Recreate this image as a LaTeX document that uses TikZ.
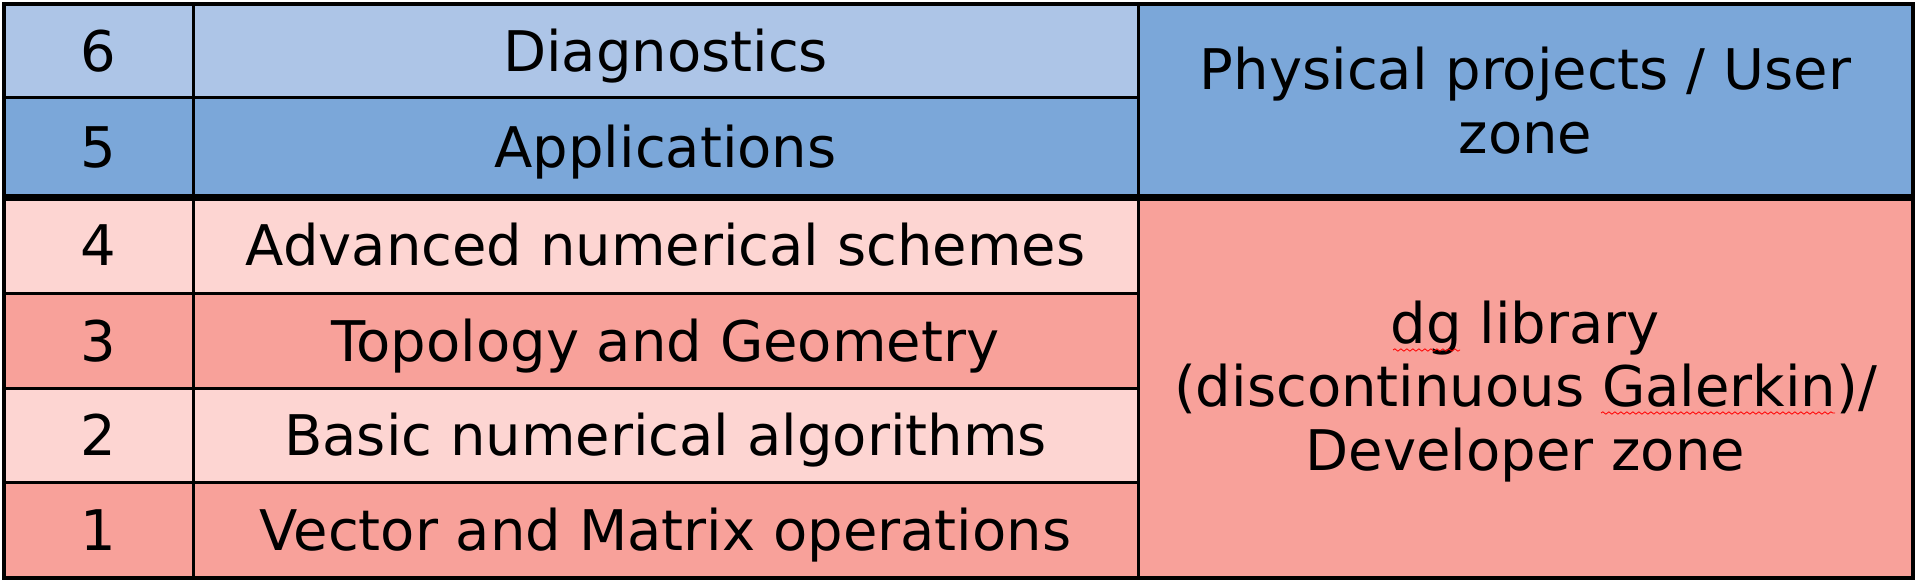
\documentclass[tikz,border=0pt]{standalone}
\usepackage{fontspec}
\setmainfont{DejaVu Sans}
\usetikzlibrary{decorations.pathmorphing}
\definecolor{lblue}{HTML}{ADC5E7}
\definecolor{mblue}{HTML}{7BA7D9}
\definecolor{lpink}{HTML}{FDD5D2}
\definecolor{salmon}{HTML}{F8A19A}
\tikzset{
  cellbase/.style={draw=black, line width=2.25pt, inner sep=0pt, outer sep=0pt,
    anchor=north west, align=center, font=\fontsize{42}{47.25}\selectfont},
  cell/.style={cellbase, text height=39.9pt, text depth=9.2pt},
  numcol/.style={minimum width=189*0.75pt},
  txtcol/.style={minimum width=945*0.75pt},
  rcol/.style={minimum width=775*0.75pt},
  bigtext/.style={align=center, inner sep=0pt, font=\fontsize{42}{47.6}\selectfont},
  squig/.style={draw=red, line width=0.6pt, decorate,
    decoration={snake, segment length=4.5pt, amplitude=0.9pt}},
}
\begin{document}
\begin{tikzpicture}[x=0.75pt,y=-0.75pt]
\useasboundingbox (0,0) rectangle (1916,581);
% row 6
\node[cell, numcol, fill=lblue, minimum height=93.5*0.75pt] (n6) at (4,4) {6};
\node[cell, txtcol, fill=lblue, minimum height=93.5*0.75pt] (t6) at (193,4) {Diagnostics};
% row 5
\node[cell, numcol, fill=mblue, minimum height=99.5*0.75pt] (n5) at (4,97.5) {5};
\node[cell, txtcol, fill=mblue, minimum height=99.5*0.75pt] (t5) at (193,97.5) {Applications};
% row 4
\node[cell, numcol, fill=lpink, minimum height=96.5*0.75pt] (n4) at (4,197) {4};
\node[cell, txtcol, fill=lpink, minimum height=96.5*0.75pt] (t4) at (193,197) {Advanced numerical schemes};
% row 3
\node[cell, numcol, fill=salmon, minimum height=95*0.75pt] (n3) at (4,293.5) {3};
\node[cell, txtcol, fill=salmon, minimum height=95*0.75pt] (t3) at (193,293.5) {Topology and Geometry};
% row 2
\node[cell, numcol, fill=lpink, minimum height=94*0.75pt] (n2) at (4,388.5) {2};
\node[cell, txtcol, fill=lpink, minimum height=94*0.75pt] (t2) at (193,388.5) {Basic numerical algorithms};
% row 1
\node[cell, numcol, fill=salmon, minimum height=95*0.75pt] (n1) at (4,482.5) {1};
\node[cell, txtcol, fill=salmon, minimum height=95*0.75pt] (t1) at (193,482.5) {Vector and Matrix operations};
% right column
\node[cellbase, rcol, fill=mblue, minimum height=193*0.75pt] (user) at (1138,4) {};
\node[bigtext] (usertext) at (user.center) {Physical projects / User\\zone};
\node[cellbase, rcol, fill=salmon, minimum height=380.5*0.75pt] (dev) at (1138,197) {};
\node[bigtext] (devtext) at ([yshift=-3pt]dev.center)
  {dg library\\(discontinuous Galerkin)/\\Developer zone};
% thick separator and outer frame
\draw[line width=5.25pt] (n5.south west) -- (user.south east);
\draw[line width=3pt] (n6.north west) rectangle (dev.south east);
% spell-check squiggles
\draw[squig] (1393,350) -- (1460,350);
\draw[squig] (1601,413) -- (1835,413);
\end{tikzpicture}
\end{document}
